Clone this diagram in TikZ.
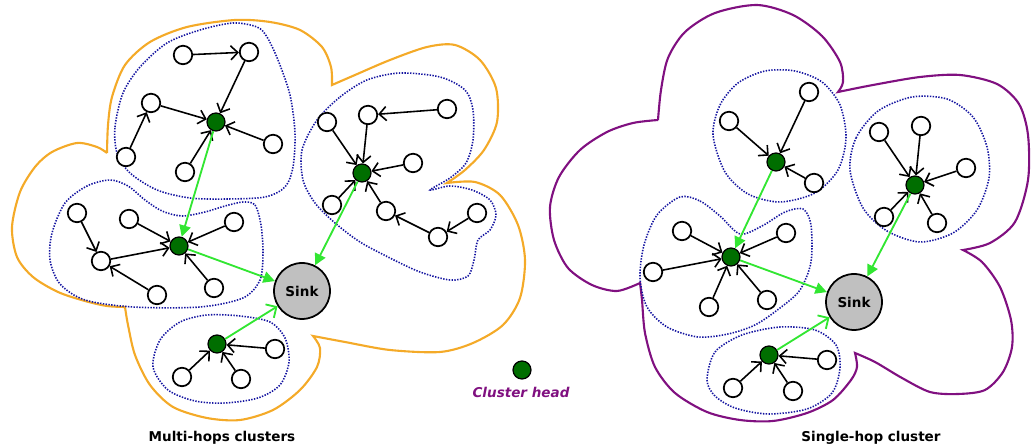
\documentclass[tikz,border=0pt]{standalone}
\usepackage{fontspec}
\setmainfont{DejaVu Sans}
\usetikzlibrary{arrows.meta}
\definecolor{hopgreen}{RGB}{50,230,50}
\definecolor{headgreen}{RGB}{0,110,0}
\definecolor{sinkgray}{RGB}{192,192,192}
\definecolor{multiorange}{RGB}{244,170,40}
\definecolor{singlepurple}{RGB}{128,16,128}
\definecolor{zoneblue}{RGB}{20,20,160}
\tikzset{
	sensor/.style={circle, draw, line width=1pt, fill=white, minimum size=0.37cm, inner sep=0pt},
	head/.style={circle, draw, line width=0.7pt, fill=headgreen, minimum size=0.36cm, inner sep=0pt},
	sink/.style={circle, draw, line width=1pt, fill=sinkgray, minimum size=1.12cm, inner sep=0pt, font=\fontsize{7.7}{9}\selectfont\bfseries},
	link/.style={-{Straight Barb[length=4pt,width=8pt]}, line width=0.9pt},
	hop/.style={-{Triangle[length=6.5pt,width=6.5pt]}, hopgreen, line width=1.05pt},
	hopopen/.style={-{Straight Barb[length=4.5pt,width=9pt]}, hopgreen, line width=1.05pt},
	zone/.style={zoneblue, line width=0.9pt, dash pattern=on 0.8pt off 0.8pt},
	paneltitle/.style={font=\fontsize{7.7}{9}\selectfont\bfseries}
}
\begin{document}
\begin{tikzpicture}[x=0.02cm, y=-0.02cm]
	\useasboundingbox (0,0) rectangle (1031,448);
	% outer borders
	\draw[multiorange, line width=1.2pt] plot[smooth] coordinates {(107,153) (108,125) (112,97) (125,65) (150,42) (187,27) (235,20) (270,22) (300,30) (322,47) (331,67) (332,85)}
		-- plot[smooth] coordinates {(332,85) (355,75) (390,60) (427,47) (455,45) (480,60) (496,88) (497,122) (484,150) (465,170) (447,183)}
		-- plot[smooth] coordinates {(447,183) (475,182) (500,195) (518,225) (525,260) (520,298) (503,325) (473,343) (440,352) (390,350) (345,342) (313,336)}
		-- plot[smooth] coordinates {(313,336) (320,348) (317,367) (300,390) (273,410) (240,420) (207,418) (173,407) (150,385) (135,355) (128,325) (125,307)}
		-- plot[smooth] coordinates {(125,307) (107,306) (85,301) (58,292) (33,277) (17,257) (12,227) (20,192) (35,167) (52,152) (77,143) (97,147) (107,153)};
	\draw[singlepurple, line width=1.2pt] plot[smooth] coordinates {(658,120) (661,90) (668,58) (685,32) (715,13) (757,5) (793,15) (822,36) (840,62) (843,82) (838,92)}
		-- plot[smooth] coordinates {(838,92) (873,85) (920,77) (960,75) (997,84) (1019,104) (1028,135) (1028,180) (1015,222) (990,243) (963,250)}
		-- plot[smooth] coordinates {(963,250) (982,262) (1000,287) (1011,320) (1012,347) (1003,372) (985,390) (958,394) (930,392) (902,378) (875,362) (855,353)}
		-- plot[smooth] coordinates {(855,353) (857,367) (851,380) (833,400) (807,413) (773,421) (740,420) (707,412) (675,393) (655,367) (645,333) (642,300) (640,283)}
		-- plot[smooth] coordinates {(640,283) (617,291) (592,285) (568,268) (554,240) (550,207) (559,177) (580,150) (607,132) (633,123) (658,120)};
	% cluster zones
	\draw[zone] plot[smooth cycle] coordinates {(117,153) (115,127) (123,93) (140,67) (167,43) (200,30) (233,23) (257,27) (267,37) (278,60) (290,95) (295,133) (293,167) (285,187) (265,197) (227,199) (190,198) (157,190) (130,173)};
	\draw[zone] plot[smooth cycle] coordinates {(243,202) (255,205) (261,225) (263,253) (260,280) (243,298) (200,307) (133,307) (85,300) (60,284) (50,260) (52,233) (65,203) (87,186) (110,180) (128,186) (145,200) (162,211) (182,216) (205,212) (225,206)};
	\draw[zone] plot[smooth cycle] coordinates {(317,120) (340,97) (367,80) (400,73) (440,77) (465,90) (473,110) (473,140) (466,163) (450,178) (430,190) (450,186) (472,190) (490,200) (496,215) (490,230) (478,240) (474,260) (468,276) (450,280) (420,272) (390,258) (360,242) (335,223) (315,203) (303,180) (302,150)};
	\draw[zone] plot[smooth cycle] coordinates {(153,367) (160,340) (180,322) (207,315) (240,316) (270,322) (285,338) (289,362) (280,385) (258,398) (225,403) (195,401) (168,390)};
	\draw[zone] plot[smooth cycle] coordinates {(713,135) (720,105) (738,83) (765,71) (795,71) (822,82) (840,105) (846,138) (838,170) (815,193) (780,202) (748,194) (725,172)};
	\draw[zone] plot[smooth cycle] coordinates {(680,197) (700,201) (720,216) (740,234) (762,226) (785,212) (803,209) (811,225) (811,262) (800,290) (780,308) (755,325) (728,334) (698,337) (667,327) (647,307) (640,278) (644,245) (657,215)};
	\draw[zone] plot[smooth cycle] coordinates {(707,380) (715,352) (742,335) (780,327) (815,330) (836,345) (840,368) (832,393) (807,409) (768,414) (735,408) (715,396)};
	\draw[zone] plot[smooth cycle] coordinates {(850,170) (856,138) (878,111) (912,97) (947,99) (973,117) (987,147) (989,178) (977,210) (953,233) (920,242) (887,231) (863,208)};
	% multi-hop side
	\node[sink] (sinkL) at (302,291) {Sink};
	\node[head] (chA) at (216,122) {};
	\node[sensor] (a1) at (183,55) {};
	\node[sensor] (a2) at (249,52) {};
	\node[sensor] (a3) at (151,103) {};
	\node[sensor] (a4) at (126,157) {};
	\node[sensor] (a5) at (185,172) {};
	\node[sensor] (a6) at (273,144) {};
	\node[head] (chB) at (179,246) {};
	\node[sensor] (b1) at (77,213) {};
	\node[sensor] (b2) at (129,219) {};
	\node[sensor] (b3) at (234,222) {};
	\node[sensor] (b4) at (101,261) {};
	\node[sensor] (b5) at (157,295) {};
	\node[sensor] (b6) at (214,288) {};
	\node[head] (chC) at (362,173) {};
	\node[sensor] (c1) at (327,122) {};
	\node[sensor] (c2) at (368,115) {};
	\node[sensor] (c3) at (447,109) {};
	\node[sensor] (c4) at (413,163) {};
	\node[sensor] (c5) at (332,205) {};
	\node[sensor] (c6) at (386,211) {};
	\node[sensor] (c7) at (438,237) {};
	\node[sensor] (c8) at (477,213) {};
	\node[head] (chD) at (217,344) {};
	\node[sensor] (d1) at (275,349) {};
	\node[sensor] (d2) at (182,377) {};
	\node[sensor] (d3) at (241,379) {};
	\draw[link] (a1) -- (a2);
	\draw[link] (a2) -- (chA);
	\draw[link] (a3) -- (chA);
	\draw[link] (a4) -- (a3);
	\draw[link] (a5) -- (chA);
	\draw[link] (a6) -- (chA);
	\draw[link] (b1) -- (b4);
	\draw[link] (b2) -- (chB);
	\draw[link] (b3) -- (chB);
	\draw[link] (b4) -- (chB);
	\draw[link] (b5) -- (b4);
	\draw[link] (b6) -- (chB);
	\draw[link] (c1) -- (chC);
	\draw[link] (c3) -- (c2);
	\draw[link] (c2) -- (chC);
	\draw[link] (c4) -- (chC);
	\draw[link] (c5) -- (chC);
	\draw[link] (c6) -- (chC);
	\draw[link] (c7) -- (c6);
	\draw[link] (c8) -- (c7);
	\draw[link] (d1) -- (chD);
	\draw[link] (d2) -- (chD);
	\draw[link] (d3) -- (chD);
	\draw[hop] (chA) -- (chB);
	\draw[hop] (chB) -- (sinkL);
	\draw[hop] (chC) -- (sinkL);
	\draw[hopopen] (chD) -- (sinkL);
	% single-hop side
	\node[sink] (sinkR) at (854,302) {Sink};
	\node[head] (chE) at (776,162) {};
	\node[sensor] (e1) at (809,92) {};
	\node[sensor] (e2) at (729,121) {};
	\node[sensor] (e3) at (814,183) {};
	\node[head] (chF) at (731,257) {};
	\node[sensor] (f1) at (682,231) {};
	\node[sensor] (f2) at (786,233) {};
	\node[sensor] (f3) at (653,272) {};
	\node[sensor] (f4) at (709,307) {};
	\node[sensor] (f5) at (767,300) {};
	\node[head] (chG) at (769,355) {};
	\node[sensor] (g1) at (827,360) {};
	\node[sensor] (g2) at (733,388) {};
	\node[sensor] (g3) at (793,391) {};
	\node[head] (chH) at (915,185) {};
	\node[sensor] (h1) at (879,132) {};
	\node[sensor] (h2) at (921,126) {};
	\node[sensor] (h3) at (966,168) {};
	\node[sensor] (h4) at (884,217) {};
	\node[sensor] (h5) at (937,223) {};
	\draw[link] (e1) -- (chE);
	\draw[link] (e2) -- (chE);
	\draw[link] (e3) -- (chE);
	\draw[link] (f1) -- (chF);
	\draw[link] (f2) -- (chF);
	\draw[link] (f3) -- (chF);
	\draw[link] (f4) -- (chF);
	\draw[link] (f5) -- (chF);
	\draw[link] (g1) -- (chG);
	\draw[link] (g2) -- (chG);
	\draw[link] (g3) -- (chG);
	\draw[link] (h1) -- (chH);
	\draw[link] (h2) -- (chH);
	\draw[link] (h3) -- (chH);
	\draw[link] (h4) -- (chH);
	\draw[link] (h5) -- (chH);
	\draw[hop] (chE) -- (chF);
	\draw[hop] (chF) -- (sinkR);
	\draw[hop] (chH) -- (sinkR);
	\draw[hopopen] (chG) -- (sinkR);
	% legend and titles
	\node[head] (legendhead) at (522,370) {};
	\node[paneltitle, text=singlepurple, font=\fontsize{7.7}{9}\selectfont\bfseries\itshape] (legendtext) at (521,392) {Cluster head};
	\node[paneltitle] (multititle) at (222,438) {Multi-hops clusters};
	\node[paneltitle] (singletitle) at (871,438) {Single-hop cluster};
\end{tikzpicture}
\end{document}
